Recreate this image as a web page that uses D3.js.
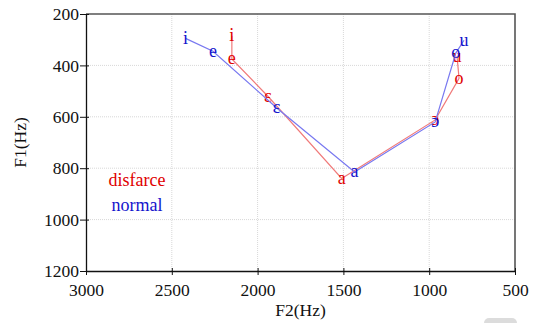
<!DOCTYPE html>
<html>
<head>
<meta charset="utf-8">
<script src="https://cdn.jsdelivr.net/npm/d3@7"></script>
<style>
  body { margin: 0; background: #fff; }
  svg { display: block; font-family: "Liberation Serif", "DejaVu Serif", serif; }
</style>
</head>
<body>
<svg id="chart"></svg>
<script>
// vowel order along each line
const vowels = ["i", "e", "ɛ", "a", "ɔ", "o", "u"];

// normal speech (F2, F1 in Hz)
const normalF2 = [2420, 2260, 1890, 1435, 965, 845, 797];
const normalF1 = [295, 345, 565, 815, 620, 352, 302];

// disguised speech
const disfarceF2 = [2150, 2150, 1940, 1510, 965, 826, 838];
const disfarceF1 = [285, 375, 520, 840, 612, 450, 364];

const xTicks = [3000, 2500, 2000, 1500, 1000, 500];
const yTicks = [200, 400, 600, 800, 1000, 1200];

const width = 534, height = 323;
const margin = {top: 14, right: 19, bottom: 52, left: 86};

const svg = d3.select("#chart")
    .attr("width", width)
    .attr("height", height);

const x = d3.scaleLinear()
    .domain([3000, 500])
    .range([margin.left, width - margin.right]);

const y = d3.scaleLinear()
    .domain([200, 1200])
    .range([margin.top, height - margin.bottom]);

// grid
svg.append("g")
    .selectAll("line")
    .data(xTicks.slice(1, -1))
    .enter().append("line")
    .attr("x1", d => x(d)).attr("x2", d => x(d))
    .attr("y1", y(200)).attr("y2", y(1200))
    .attr("stroke", "#d8d8d8")
    .attr("stroke-dasharray", "1,1");

svg.append("g")
    .selectAll("line")
    .data(yTicks.slice(1, -1))
    .enter().append("line")
    .attr("x1", x(3000)).attr("x2", x(500))
    .attr("y1", d => y(d)).attr("y2", d => y(d))
    .attr("stroke", "#d8d8d8")
    .attr("stroke-dasharray", "1,1");

// frame top / right
svg.append("path")
    .attr("d", `M${x(3000)},${y(200)}H${x(500)}V${y(1200)}`)
    .attr("fill", "none")
    .attr("stroke", "#555")
    .attr("stroke-width", 1.6);

// axes
const fmt = d3.format("d");
const xAxis = svg.append("g")
    .attr("transform", `translate(0,${y(1200)})`)
    .call(d3.axisBottom(x).tickValues(xTicks).tickFormat(fmt).tickSize(4).tickSizeOuter(0));
xAxis.selectAll("text").attr("y", 9).attr("dy", "0.9em");
xAxis.selectAll(".tick line").attr("y1", -3);

const yAxis = svg.append("g")
    .attr("transform", `translate(${x(3000)},0)`)
    .call(d3.axisLeft(y).tickValues(yTicks).tickFormat(fmt).tickSize(6).tickSizeOuter(0));
yAxis.selectAll(".tick line").attr("x2", -6).attr("x1", 3);

[xAxis, yAxis].forEach(g => {
    g.selectAll("text")
        .attr("fill", "#111")
        .style("font-size", "17.5px")
        .style("font-family", "Liberation Serif, serif");
    g.selectAll("line").attr("stroke", "#111");
    g.select(".domain").attr("stroke", "#111").attr("stroke-width", 1.3);
});
yAxis.selectAll("text").attr("x", -7);

svg.append("text")
    .attr("x", (x(3000) + x(500)) / 2)
    .attr("y", 316)
    .attr("text-anchor", "middle")
    .style("font-size", "17.5px")
    .attr("fill", "#111")
    .text("F2(Hz)");

svg.append("text")
    .attr("transform", `translate(26,${(y(200) + y(1200)) / 2}) rotate(-90)`)
    .attr("text-anchor", "middle")
    .style("font-size", "17.5px")
    .attr("fill", "#111")
    .text("F1(Hz)");

// series
const series = [
    {name: "disfarce", f2: disfarceF2, f1: disfarceF1, line: "#f07a7a", text: "#e00000"},
    {name: "normal", f2: normalF2, f1: normalF1, line: "#7878f0", text: "#1414cc"}
];

const line = d3.line().x(d => x(d.f2)).y(d => y(d.f1));

series.forEach(s => {
    const pts = vowels.map((v, i) => ({v: v, f2: s.f2[i], f1: s.f1[i]}));
    svg.append("path")
        .datum(pts)
        .attr("d", line)
        .attr("fill", "none")
        .attr("stroke", s.line)
        .attr("stroke-width", 1.2);
    svg.append("g")
        .selectAll("text")
        .data(pts)
        .enter().append("text")
        .attr("x", d => x(d.f2))
        .attr("y", d => y(d.f1))
        .attr("dy", "0.3em")
        .attr("text-anchor", "middle")
        .attr("fill", s.text)
        .style("font-size", "18px")
        .text(d => d.v);
});

// legend
const legend = svg.append("g").attr("transform", "translate(137,186)");
legend.selectAll("text")
    .data(series)
    .enter().append("text")
    .attr("x", 0)
    .attr("y", (d, i) => i * 25)
    .attr("text-anchor", "middle")
    .attr("fill", d => d.text)
    .style("font-size", "18px")
    .text(d => d.name);

// small grey tab at the bottom edge
svg.append("rect")
    .attr("x", 484).attr("y", 318)
    .attr("width", 33).attr("height", 10)
    .attr("rx", 5)
    .attr("fill", "#dcdcdc");
</script>
</body>
</html>
